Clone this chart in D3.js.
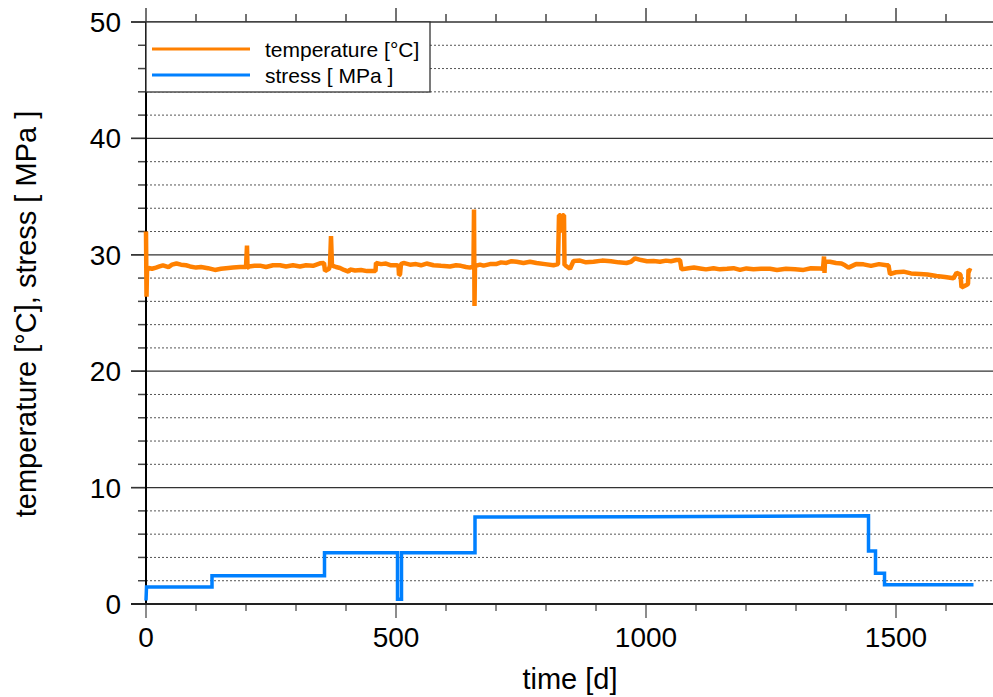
<!DOCTYPE html>
<html>
<head>
<meta charset="utf-8">
<script src="https://cdn.jsdelivr.net/npm/d3@7"></script>
<style>
  body { margin: 0; background: #fff; }
  svg { display: block; font-family: "Liberation Sans", Arial, sans-serif; }
</style>
</head>
<body>
<svg id="chart" width="993" height="697"></svg>
<script>
// stress, polyline with explicit vertical steps
var stressDays   = [0,   1,    2,    132,  132,  357,  357,  503,  503, 511, 511,  658,  658,  1000, 1445, 1445, 1459, 1459, 1477, 1477, 1655];
var stressValues = [0.3, 1.45, 1.45, 1.45, 2.43, 2.43, 4.41, 4.41, 0.4, 0.4, 4.41, 4.41, 7.48, 7.5,  7.59, 4.55, 4.55, 2.64, 2.64, 1.65, 1.65];

// temperature
var tempDays = [0, 1, 2, 5, 12, 20, 27, 34, 45, 52, 61, 70, 80, 88, 100, 110, 124, 138, 150, 160, 174, 188, 200, 202, 203, 204, 206, 217, 228, 240, 254, 268, 280, 294, 308, 320, 334, 348, 356, 358, 366, 368, 370, 372, 374, 380, 388, 396, 405,
  408, 418, 430, 442, 455, 459, 460, 470, 480, 490, 501, 505, 506, 508, 510, 515, 528, 540, 550, 561, 575, 590, 608, 620, 630, 640, 648, 655, 656, 657, 658, 659, 668, 675, 688, 700, 710, 721, 731, 741, 755, 768, 781, 798, 815, 824,
  826, 829, 831, 833, 836, 837, 838, 848, 855, 868, 880, 895, 912, 930, 945, 961, 970, 978, 990, 1002, 1015, 1028, 1040, 1050, 1061, 1068, 1071, 1085, 1096, 1108, 1120, 1135, 1148, 1162, 1175, 1188, 1201, 1215, 1230, 1248, 1262, 1280, 1298, 1315, 1330, 1348, 1354,
  1356, 1357, 1358, 1368, 1380, 1391, 1398, 1405, 1420, 1435, 1450, 1466, 1481, 1485, 1488, 1500, 1515, 1530, 1548, 1563, 1581, 1598, 1615, 1621, 1629, 1631, 1641, 1644, 1645, 1651];
var tempValues = [32.0, 26.4, 28.6, 28.87, 28.8, 28.9, 29.0, 29.1, 28.95, 29.15, 29.25, 29.15, 29.1, 29.0, 28.9, 28.95, 28.85, 28.7, 28.8, 28.85, 28.9, 28.95, 28.95, 30.8, 28.9, 28.9, 29.0, 29.05, 29.07, 28.95, 29.1, 29.1, 29.0, 29.1, 29.0, 29.1, 29.05, 29.27, 29.3, 28.6, 28.8, 29.1, 31.6, 29.0, 29.05, 28.95, 28.87, 28.7, 28.55,
  28.75, 28.65, 28.7, 28.6, 28.6, 28.6, 29.3, 29.2, 29.25, 29.1, 29.1, 29.05, 28.26, 28.3, 29.2, 29.3, 29.15, 29.2, 29.1, 29.25, 29.1, 29.05, 29.0, 29.1, 29.05, 28.95, 28.9, 29.0, 33.9, 25.6, 29.0, 29.05, 29.15, 29.07, 29.2, 29.2, 29.35, 29.3, 29.45, 29.4, 29.3, 29.4, 29.3, 29.2, 29.1, 29.2,
  33.4, 33.4, 31.9, 33.4, 33.4, 29.1, 29.1, 28.8, 29.47, 29.5, 29.35, 29.4, 29.5, 29.45, 29.35, 29.3, 29.4, 29.7, 29.55, 29.45, 29.47, 29.4, 29.5, 29.45, 29.55, 29.55, 28.75, 28.85, 28.9, 28.83, 28.75, 28.85, 28.75, 28.8, 28.85, 28.7, 28.83, 28.75, 28.8, 28.8, 28.7, 28.8, 28.75, 28.7, 28.85, 28.83, 28.8,
  29.85, 28.45, 29.4, 29.4, 29.3, 29.25, 29.1, 28.9, 29.2, 29.18, 29.05, 29.2, 29.1, 29.1, 28.35, 28.5, 28.55, 28.4, 28.35, 28.3, 28.18, 28.1, 27.98, 28.45, 28.3, 27.2, 27.4, 27.5, 28.7, 28.6];

var xTicks = [0, 500, 1000, 1500];
var yTicks = [0, 10, 20, 30, 40, 50];

var svg = d3.select("#chart");

var x = d3.scaleLinear().domain([0, 1700]).range([146, 996]);
var y = d3.scaleLinear().domain([0, 50]).range([604, 22]);

var grid = svg.append("g");
// minor dotted grid every 2
d3.range(2, 50, 2).filter(function(v) { return v % 10 != 0; }).forEach(function(v) {
  grid.append("line")
    .attr("x1", x(0)).attr("x2", 993)
    .attr("y1", y(v)).attr("y2", y(v))
    .attr("stroke", "#555").attr("stroke-width", 1)
    .attr("stroke-dasharray", "2,2");
});
// major solid grid every 10
[10, 20, 30, 40, 50].forEach(function(v) {
  grid.append("line")
    .attr("x1", x(0) - 15).attr("x2", 993)
    .attr("y1", y(v)).attr("y2", y(v))
    .attr("stroke", "#333").attr("stroke-width", 1.3);
});

// y ticks (left, outward)
d3.range(0, 51, 2).forEach(function(v) {
  var major = v % 10 == 0;
  svg.append("line")
    .attr("x1", x(0) - (major ? 15 : 8)).attr("x2", x(0))
    .attr("y1", y(v)).attr("y2", y(v))
    .attr("stroke", major ? "#333" : "#444").attr("stroke-width", 1.5);
});
// x ticks bottom and top
d3.range(0, 1701, 100).forEach(function(v) {
  var major = v % 500 == 0;
  svg.append("line")
    .attr("x1", x(v)).attr("x2", x(v))
    .attr("y1", y(0)).attr("y2", y(0) + (major ? 14 : 7))
    .attr("stroke", "#666").attr("stroke-width", 1.5);
  svg.append("line")
    .attr("x1", x(v)).attr("x2", x(v))
    .attr("y1", y(50)).attr("y2", y(50) - (major ? 14 : 8))
    .attr("stroke", "#444").attr("stroke-width", 1.5);
});

// axis lines
svg.append("line")
  .attr("x1", x(0)).attr("x2", x(0)).attr("y1", y(50)).attr("y2", y(0))
  .attr("stroke", "#000").attr("stroke-width", 2);
svg.append("line")
  .attr("x1", x(0) - 15).attr("x2", 993).attr("y1", y(0)).attr("y2", y(0))
  .attr("stroke", "#222").attr("stroke-width", 2);

// tick labels
svg.append("g").selectAll("text")
  .data(yTicks).enter().append("text")
  .attr("x", 121).attr("y", function(d) { return y(d); })
  .attr("dy", "0.36em")
  .attr("text-anchor", "end")
  .style("font-size", "28px")
  .text(function(d) { return d; });
svg.append("g").selectAll("text")
  .data(xTicks).enter().append("text")
  .attr("x", function(d) { return x(d); }).attr("y", 647)
  .attr("text-anchor", "middle")
  .style("font-size", "28px")
  .text(function(d) { return d; });

// axis titles
svg.append("text")
  .attr("x", 570).attr("y", 689)
  .attr("text-anchor", "middle")
  .style("font-size", "29px")
  .text("time [d]");
svg.append("text")
  .attr("transform", "translate(36,314) rotate(-90)")
  .attr("text-anchor", "middle")
  .style("font-size", "29px")
  .text("temperature [°C], stress [ MPa ]");

// series
var tempData = tempDays.map(function(d, i) { return [d, tempValues[i]]; });
var stressData = stressDays.map(function(d, i) { return [d, stressValues[i]]; });
var line = d3.line().x(function(d) { return x(d[0]); }).y(function(d) { return y(d[1]); });

svg.append("path")
  .datum(tempData)
  .attr("fill", "none")
  .attr("stroke", "#ff8000")
  .attr("stroke-width", 4.5)
  .attr("stroke-linejoin", "bevel")
  .attr("d", line);

svg.append("path")
  .datum(stressData)
  .attr("fill", "none")
  .attr("stroke", "#0080ff")
  .attr("stroke-width", 3.5)
  .attr("d", line);

// legend
var legend = svg.append("g");
legend.append("rect")
  .attr("x", x(0)).attr("y", y(50))
  .attr("width", 284).attr("height", 70)
  .attr("fill", "#fff").attr("stroke", "#333").attr("stroke-width", 1.3);
var items = [["temperature [°C]", "#ff8000"], ["stress [ MPa ]", "#0080ff"]];
items.forEach(function(it, i) {
  var yy = 49 + i * 26;
  legend.append("line")
    .attr("x1", 152).attr("x2", 250).attr("y1", yy).attr("y2", yy)
    .attr("stroke", it[1]).attr("stroke-width", 3);
  legend.append("text")
    .attr("x", 265).attr("y", yy).attr("dy", "0.36em")
    .style("font-size", "21px")
    .text(it[0]);
});
</script>
</body>
</html>
